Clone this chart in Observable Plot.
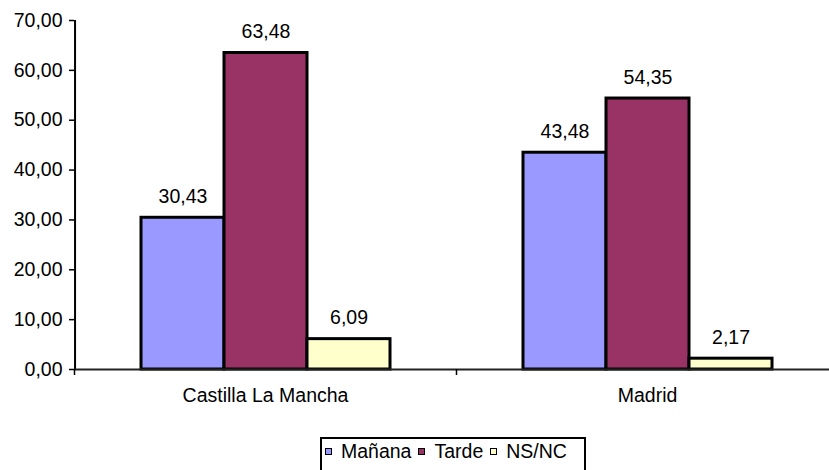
<!DOCTYPE html>
<html>
<head>
<meta charset="utf-8">
<script src="https://cdn.jsdelivr.net/npm/d3@7"></script>
<script src="https://cdn.jsdelivr.net/npm/@observablehq/plot@0.6"></script>
<style>
  html, body { margin: 0; padding: 0; background: #fff; overflow: hidden; }
  #wrap { position: relative; width: 829px; height: 470px; font-family: Arial, "Liberation Sans", sans-serif; }
  #legend {
    position: absolute; left: 320px; top: 437px; width: 266px; height: 40px;
    border: 2px solid #000; box-sizing: border-box;
    display: flex; align-items: flex-start; padding: 1px 0 0 3px;
    font-size: 19.5px; line-height: 22px; color: #000;
  }
  #legend .item { display: flex; align-items: center; margin-right: 7px; }
  #legend .sw { width: 5px; height: 5px; border: 1.5px solid #000; margin-right: 9px; }
</style>
</head>
<body>
<div id="wrap"></div>
<script>
const regions = ["Castilla La Mancha", "Madrid"];
const series = ["Mañana", "Tarde", "NS/NC"];
const manana = [30.43, 43.48];
const tarde = [63.48, 54.35];
const nsnc = [6.09, 2.17];
const seriesColors = ["#9999FF", "#993366", "#FFFFCC"];
const yTicks = [0, 10, 20, 30, 40, 50, 60, 70];

const values = [manana, tarde, nsnc];
const data = [];
regions.forEach((r, i) => series.forEach((s, j) => data.push({region: r, series: s, value: values[j][i]})));

const fmt = d => d.toFixed(2).replace(".", ",");

const W = 829, H = 432, mL = 74, mR = -9;
const padOuter = 0.8;
const half = (W - mL - mR) / regions.length / 2;
const step = (2 * half) / (series.length + 2 * padOuter);

const chart = Plot.plot({
  width: W,
  height: H,
  marginTop: 20,
  marginBottom: H - 369,
  marginLeft: mL,
  marginRight: mR,
  style: {fontFamily: "Arial, 'Liberation Sans', sans-serif", fontSize: "19.5px", color: "#000", background: "transparent", overflow: "visible"},
  fx: {domain: regions, paddingInner: 0, paddingOuter: 0, label: null},
  x: {domain: series, paddingInner: 0, paddingOuter: padOuter, axis: null},
  y: {domain: [0, 70], label: null},
  color: {domain: series, range: seriesColors},
  marks: [
    Plot.axisY({ticks: yTicks, tickFormat: fmt, tickSize: 5, tickPadding: 7, fontSize: 19.5, stroke: "#000", strokeWidth: 1.5, label: null}),
    Plot.ruleX([{region: regions[0], series: series[0]}], {fx: "region", x: "series", dx: -(padOuter * step + step / 2), stroke: "#000", strokeWidth: 2}),
    Plot.barY(data, {fx: "region", x: "series", y: "value", fill: "series", stroke: "#000", strokeWidth: 3, inset: 0}),
    Plot.ruleY([0], {stroke: "#222", strokeWidth: 2}),
    Plot.text(data, {fx: "region", x: "series", y: "value", text: d => fmt(d.value), dy: -15, lineAnchor: "bottom", fontSize: 19.5, fill: "#000"}),
    Plot.axisFx({anchor: "bottom", tickSize: 0, tickPadding: 19, fontSize: 19.5, label: null}),
    Plot.axisFx({anchor: "bottom", tickSize: 6, tickFormat: () => "", dx: -half, stroke: "#000", strokeWidth: 1.5, label: null})
  ]
});

document.getElementById("wrap").appendChild(chart);

const legend = document.createElement("div");
legend.id = "legend";
series.forEach((s, i) => {
  const item = document.createElement("span");
  item.className = "item";
  const sw = document.createElement("span");
  sw.className = "sw";
  sw.style.background = seriesColors[i];
  const t = document.createElement("span");
  t.textContent = s;
  item.appendChild(sw);
  item.appendChild(t);
  legend.appendChild(item);
});
document.getElementById("wrap").appendChild(legend);
</script>
</body>
</html>
